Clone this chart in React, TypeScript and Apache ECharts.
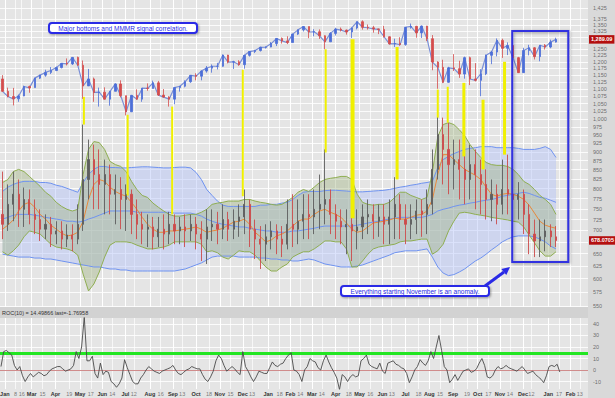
import React, { useEffect, useRef } from "react";
import * as echarts from "echarts";

const DAY_MS = 86400000;
const toTs = (s: string) => {
  const [y, m, d] = s.split("-").map(Number);
  return new Date(y, m - 1, d).getTime();
};

// ---------- time frame ----------
const FIRST_WEEK = "2010-01-22"; // weekly bars, one per Friday
const ROC_START = "2010-01-20"; // ROC samples, every 3.5 days
const X_MIN = toTs("2010-01-18") + 17 * 3600000;
const X_MAX = toTs("2012-02-23") + 17 * 3600000;

// ---------- S&P 500 weekly bars ----------
const SPX_OPEN = [1136,1092,1074,1066,1076,1109,1105,1139,1150,1160,1167,1178,1194,1192,1217,1187,1111,1136,1088,1089,1065,1092,1118,1077,1023,1078,1065,1103,1102,1122,1079,1072,1065,1105,1110,1126,1149,1146,1165,1176,1183,1183,1226,1199,1200,1189,1225,1240,1244,1257,1258,1272,1293,1283,1276,1311,1329,1343,1320,1321,1304,1279,1314,1332,1328,1320,1337,1364,1340,1338,1333,1331,1300,1271,1272,1268,1340,1344,1316,1345,1292,1199,1179,1124,1177,1174,1154,1216,1136,1131,1155,1225,1238,1285,1253,1264,1216,1159,1244,1255,1220,1265,1258,1278];
const SPX_CLOSE = [1092,1074,1066,1076,1109,1104,1139,1150,1160,1167,1178,1194,1192,1217,1187,1111,1136,1088,1089,1065,1092,1118,1077,1023,1078,1065,1103,1102,1122,1079,1072,1065,1105,1110,1126,1149,1146,1165,1176,1183,1183,1226,1199,1200,1189,1225,1240,1244,1257,1258,1272,1293,1283,1276,1311,1329,1343,1320,1321,1304,1279,1314,1332,1328,1320,1337,1364,1340,1338,1333,1331,1300,1271,1272,1268,1340,1344,1316,1345,1292,1199,1179,1124,1177,1174,1154,1216,1136,1131,1155,1225,1238,1285,1253,1264,1216,1159,1244,1255,1220,1265,1258,1278,1289.09];
const SPX_LOW = [1090,1071,1044,1056,1075,1087,1105,1136,1144,1154,1165,1175,1186,1188,1185,1066,1111,1056,1040,1064,1043,1092,1071,1011,1022,1063,1056,1094,1102,1076,1070,1040,1048,1091,1106,1122,1131,1131,1159,1159,1171,1181,1194,1173,1185,1174,1220,1234,1240,1252,1257,1262,1272,1270,1276,1307,1322,1294,1302,1291,1249,1279,1305,1322,1309,1295,1331,1330,1330,1317,1311,1297,1268,1258,1263,1263,1334,1296,1295,1282,1168,1101,1121,1122,1165,1140,1137,1114,1127,1075,1150,1191,1221,1215,1226,1209,1158,1158,1225,1209,1202,1248,1253,1276];
const SPX_HIGH = [1150,1105,1104,1081,1112,1112,1139,1151,1170,1180,1182,1195,1213,1217,1220,1205,1173,1141,1105,1106,1092,1120,1131,1077,1078,1099,1103,1120,1130,1129,1100,1075,1105,1110,1131,1149,1157,1167,1184,1190,1196,1228,1227,1204,1206,1225,1241,1247,1259,1260,1278,1294,1297,1302,1312,1330,1344,1343,1332,1331,1306,1319,1338,1339,1330,1339,1364,1370,1352,1346,1334,1346,1302,1292,1298,1341,1356,1346,1347,1346,1307,1202,1208,1181,1230,1204,1220,1220,1195,1172,1228,1242,1293,1292,1277,1266,1219,1255,1267,1258,1266,1270,1288,1296];

// ---------- MMMR weekly bars ----------
const MMMR_OPEN = [737,714,761,786,749,773,737,725,703,714,692,699,681,690,681,714,824,878,837,811,837,786,798,773,786,737,714,703,708,686,703,692,714,699,708,699,714,692,681,708,714,703,725,703,721,731,761,703,681,670,686,699,681,670,714,703,721,737,731,749,761,773,737,721,708,714,699,708,731,737,721,731,714,731,761,725,714,725,745,737,761,851,951,907,864,878,851,824,864,837,811,773,786,761,798,786,773,786,737,692,677,686,699,686];
const MMMR_CLOSE = [714,761,786,749,773,737,725,703,714,692,699,681,690,681,714,824,878,837,811,837,786,798,773,786,737,714,703,708,686,703,692,714,699,708,699,714,692,681,708,714,703,725,703,721,731,761,703,681,670,686,699,681,670,714,703,721,737,731,749,761,773,737,721,708,714,699,708,731,737,721,731,714,731,761,725,714,725,745,737,761,851,951,907,864,878,851,824,864,837,811,773,786,761,798,786,773,786,737,692,677,686,699,686,678.07];
const MMMR_LOW = [681,699,721,708,708,714,692,677,681,664,670,659,664,655,670,699,773,749,749,737,737,714,703,699,692,681,670,664,659,664,659,670,670,670,664,677,659,635,629,677,670,681,677,681,686,692,664,639,619,635,659,649,643,659,664,670,681,681,692,703,714,692,681,670,649,635,659,681,692,681,686,670,670,681,681,670,681,692,686,692,737,824,811,786,798,773,761,773,749,737,725,721,714,737,737,721,725,692,649,643,643,655,664,664];
const MMMR_HIGH = [845,811,845,824,803,798,773,749,737,731,721,721,714,714,761,982,936,921,907,878,864,837,830,811,798,773,743,737,731,731,737,743,737,731,737,737,731,721,749,749,743,761,743,749,761,798,773,725,710,714,721,714,710,773,786,773,786,786,798,837,907,798,761,749,749,749,749,761,773,761,761,761,773,830,786,761,761,773,773,798,907,1030,1004,988,936,936,907,921,907,878,851,824,811,878,892,824,817,798,761,725,725,725,714,710];

// ---------- MMMR bands (blue = wide, green = narrow) and fast average ----------
const BLUE_UPPER = [793,804,811,816,819,819,819,816,816,814,809,806,801,796,791,816,837,851,859,859,856,856,855,855,856,857,858,858,857,856,855,855,856,857,857,855,843,824,798,783,769,759,756,756,756,756,756,756,759,759,761,761,764,766,773,783,791,793,793,793,795,796,796,795,794,793,792,792,793,794,795,796,798,801,804,806,809,811,814,816,819,856,878,887,895,901,907,910,912,915,915,915,912,912,912,912,910,907,907,907,910,915,907,884];
const BLUE_MID = [726,730,735,737,737,737,735,733,730,728,726,724,721,721,719,721,726,730,735,740,745,745,745,745,745,742,742,742,742,742,742,742,740,740,740,740,737,733,726,721,717,714,712,710,708,708,705,703,701,699,699,696,696,696,699,699,701,703,705,708,710,710,710,710,710,710,712,714,717,719,721,724,726,728,730,730,730,730,730,733,737,745,749,752,756,759,761,764,766,769,771,773,776,781,783,786,788,791,788,783,778,776,771,766];
const BLUE_LOWER = [649,647,645,643,643,643,641,641,639,639,637,635,633,631,629,627,625,623,623,621,619,619,617,617,615,615,615,615,615,615,615,615,615,617,619,623,627,631,637,643,645,645,645,645,643,643,643,643,641,641,639,639,637,637,635,635,637,639,637,633,629,627,625,623,623,623,625,627,631,635,639,643,647,652,654,656,656,656,658,660,643,623,611,606,608,613,619,627,635,641,649,658,666,675,681,686,688,688,688,686,681,675,666,660];
const GREEN_UPPER = [816,824,845,851,845,832,819,806,791,781,766,756,749,745,749,837,907,930,927,907,873,864,859,845,819,798,783,778,764,754,745,737,733,733,735,737,737,742,749,761,764,766,769,769,769,773,773,769,766,764,761,759,761,769,778,791,798,793,804,816,824,827,829,832,832,824,786,766,761,759,761,761,766,778,791,791,783,778,773,778,843,945,982,988,982,966,948,921,901,884,870,864,862,862,859,851,837,819,811,798,783,773,761,737];
const GREEN_LOWER = [654,647,656,668,686,699,696,692,681,670,664,662,660,656,647,609,577,590,613,643,668,675,675,675,673,668,664,660,660,662,664,668,675,675,675,675,675,670,654,656,652,643,639,647,656,654,654,647,635,623,615,615,623,629,643,649,654,654,660,668,677,677,675,675,660,623,623,635,649,660,664,666,668,670,675,677,677,679,681,681,649,656,670,699,721,740,742,740,737,735,733,730,728,726,724,721,719,708,690,673,656,645,645,654];
const FAST_MA = [703,712,724,745,761,766,754,737,726,712,703,694,688,690,696,721,773,811,824,819,804,793,786,781,766,749,730,714,703,696,696,699,699,701,703,705,708,703,696,699,701,705,712,719,721,726,714,696,686,675,679,688,692,699,710,721,726,726,737,745,749,742,737,730,717,703,696,699,708,717,719,721,724,728,726,726,730,735,737,745,773,837,892,892,878,864,851,843,835,824,804,786,781,786,788,786,781,773,759,740,721,712,708,705];

// ---------- ROC(10) ----------
const ROC_VALUES = [3,16,17,15,13,4,0,3,-5,-10,-6,-3,-6,-4,-2,-3,-5,-4,-1,1,2,3,3,1,-1,0,1,4,16,10,20,46,8,8,12,-3,-7,6,-4,-1,-2,-10,-12,-15,-12,-7,9,2,-4,-10,-12,-12,-7,-4,0,3,1,-1,-2,-3,-1,0,1,2,4,0,-3,-4,-2,0,1,3,2,1,1,-4,-8,-10,-6,-1,8,13,10,4,-1,1,3,1,-2,-4,16,3,-1,-6,-10,-6,-1,-2,-3,-3,2,7,4,3,5,6,10,13,15,0,-1,-4,-10,0,3,10,8,7,2,0,8,13,7,2,-2,-7,-17,-4,-6,-10,-6,-4,-6,-5,8,10,13,5,3,2,1,6,-1,-3,6,7,8,5,4,2,1,-3,-11,-6,0,3,9,6,4,8,16,10,20,30,17,3,0,-11,-8,-4,-9,-5,-1,0,1,-2,-1,1,6,10,4,-6,-7,-5,0,3,1,2,4,2,1,0,-1,1,3,0,-3,-2,-1,-4,-6,-8,-11,-5,3,4,3,5,-1.77];
const ROC_SIGNAL = 14.49866;
const ROC_LAST = -1.76958;

// ---------- yellow signal lines ----------
const SIGNAL_DATES = ["2010-05-08","2010-07-04","2010-08-31","2010-12-01","2011-03-19","2011-04-23","2011-06-20","2011-08-12","2011-08-25","2011-09-15","2011-10-10","2011-11-07"];
const SIGNAL_TOP = [1073,1013,1040,1170,1249,1290,1258,1098,1108,1122,1063,1200];
const SIGNAL_BOTTOM = [982,783,737,781,898,728,824,1004,988,887,851,892];
const SIGNAL_WIDTH = [2,2,2,2,2,4,3,2,2,3,3,3];

// ---------- anomaly box ----------
const BOX_FROM = ["2011-11-17", 1324];
const BOX_TO = ["2012-01-29", 633];

// ---------- last-value tags ----------
const SPX_LAST_TEXT = "1,289.09";
const MMMR_LAST = 678.0705;

// ---------- ticks ----------
const PRICE_GRID = [550,575,600,625,650,675,700,725,750,775,800,825,850,875,900,925,950,975,1000,1025,1050,1075,1100,1125,1150,1175,1200,1225,1250,1275,1300,1325,1350,1375,1425];
// labels hidden behind the last-value tags are left out
const PRICE_LABELS = [550,575,600,625,650,700,725,750,775,800,825,850,875,900,925,950,975,1000,1025,1050,1075,1100,1125,1150,1175,1200,1225,1250,1325,1350,1375,1425];
const ROC_TICKS = [-10,0,10,20,30,40];
const MONTH_LABELS: [string, string][] = [["2010-01-25","Jan"],["2010-03-01","Mar"],["2010-04-01","Apr"],["2010-05-03","May"],["2010-06-01","Jun"],["2010-07-01","Jul"],["2010-08-02","Aug"],["2010-09-01","Sep"],["2010-10-01","Oct"],["2010-11-01","Nov"],["2010-12-01","Dec"],["2011-01-03","Jan"],["2011-02-01","Feb"],["2011-03-01","Mar"],["2011-04-01","Apr"],["2011-05-02","May"],["2011-06-01","Jun"],["2011-07-01","Jul"],["2011-08-01","Aug"],["2011-09-01","Sep"],["2011-10-03","Oct"],["2011-11-01","Nov"],["2011-12-01","Dec"],["2012-01-03","Jan"],["2012-02-01","Feb"]];
const DAY_LABELS: [string, string][] = [["2010-02-08","8"],["2010-02-16","16"],["2010-03-15","15"],["2010-04-19","19"],["2010-05-17","17"],["2010-06-14","14"],["2010-07-12","12"],["2010-08-16","16"],["2010-09-13","13"],["2010-10-18","18"],["2010-11-15","15"],["2010-12-13","13"],["2011-01-18","18"],["2011-02-14","14"],["2011-03-14","14"],["2011-04-18","18"],["2011-05-16","16"],["2011-06-13","13"],["2011-07-18","18"],["2011-08-15","15"],["2011-09-19","19"],["2011-10-17","17"],["2011-11-14","14"],["2011-12-12","12"],["2012-01-17","17"],["2012-02-13","13"]];

const FONT = "'Liberation Sans', Arial, sans-serif";
const fmtPrice = (v: number) =>
  v >= 1000 ? `${Math.floor(v / 1000)},${String(v % 1000).padStart(3, "0")}` : String(v);

function buildOption() {
  const week0 = toTs(FIRST_WEEK);
  const weekTs = SPX_CLOSE.map((_, i) => week0 + i * 7 * DAY_MS);
  const roc0 = toTs(ROC_START);
  const rocTs = ROC_VALUES.map((_, k) => roc0 + k * 3.5 * DAY_MS);
  const pairs = (arr: number[]) => weekTs.map((t, i) => [t, arr[i]]);

  const band = (upper: number[], lower: number[], fill: string) => ({
    type: "custom",
    silent: true,
    z: 2,
    xAxisIndex: 0,
    yAxisIndex: 0,
    data: [[weekTs[0], upper[0]]],
    renderItem: (_p: any, api: any) => {
      const pts: number[][] = [];
      for (let i = 0; i < upper.length; i++) pts.push(api.coord([weekTs[i], upper[i]]));
      for (let i = lower.length - 1; i >= 0; i--) pts.push(api.coord([weekTs[i], lower[i]]));
      return { type: "polygon", shape: { points: pts }, style: { fill } };
    },
  });

  const line = (arr: number[], color: string, z = 3, extra: any = {}) => ({
    type: "line",
    silent: true,
    z,
    xAxisIndex: 0,
    yAxisIndex: 0,
    showSymbol: false,
    symbol: "none",
    data: pairs(arr),
    lineStyle: { color, width: 1 },
    ...extra,
  });

  const tagLabel = {
    show: true, position: "end", distance: 1, color: "#ffffff", backgroundColor: "#b40f0f",
    fontWeight: "bold", fontSize: 5.5, fontFamily: FONT, padding: [1.5, 2, 1, 2],
  };

  return {
    animation: false,
    backgroundColor: "#e5e5e5",
    grid: [
      { left: 0, right: 27, top: 0, height: 307, show: false },
      { left: 0, right: 27, top: 318, height: 71, show: false },
    ],
    xAxis: [
      { type: "time", gridIndex: 0, min: X_MIN, max: X_MAX, show: false },
      { type: "time", gridIndex: 1, min: X_MIN, max: X_MAX, show: false },
    ],
    yAxis: [
      { type: "log", gridIndex: 0, min: 548.2, max: 1462, show: false },
      { type: "value", gridIndex: 1, min: -16.5, max: 45.2, show: false },
    ],
    graphic: [
      { type: "rect", z: 0, silent: true, shape: { x: 588, y: 0, width: 27, height: 398 }, style: { fill: "#d9d9d9" } },
      { type: "rect", z: 0, silent: true, shape: { x: 0, y: 307, width: 588, height: 11 }, style: { fill: "#d2d2d2" } },
      {
        type: "text", z: 50, silent: true, x: 2, y: 312.5,
        style: { text: `ROC(10) = ${ROC_SIGNAL} last=${ROC_LAST}`, fontSize: 5.5, fontFamily: FONT, fill: "#333", verticalAlign: "middle", textVerticalAlign: "middle" },
      },
      {
        type: "rect", z: 100, silent: true, shape: { x: 49, y: 23, width: 148, height: 10, r: 3 },
        style: { fill: "#ffffff", stroke: "#2a2ae6", lineWidth: 2, shadowBlur: 2, shadowColor: "rgba(0,0,0,0.35)", shadowOffsetX: 1, shadowOffsetY: 1 },
      },
      {
        type: "text", z: 101, silent: true, x: 123, y: 28.3,
        style: { text: "Major bottoms and MMMR signal correlation.", fontSize: 6.5, fontFamily: FONT, fill: "#2a2ae6", align: "center", textAlign: "center", verticalAlign: "middle", textVerticalAlign: "middle" },
      },
      {
        type: "rect", z: 100, silent: true, shape: { x: 341, y: 286, width: 148, height: 10, r: 3 },
        style: { fill: "#ffffff", stroke: "#2a2ae6", lineWidth: 2, shadowBlur: 2, shadowColor: "rgba(0,0,0,0.35)", shadowOffsetX: 1, shadowOffsetY: 1 },
      },
      {
        type: "text", z: 101, silent: true, x: 415, y: 291.3,
        style: { text: "Everything starting November is an anomaly.", fontSize: 6.5, fontFamily: FONT, fill: "#2a2ae6", align: "center", textAlign: "center", verticalAlign: "middle", textVerticalAlign: "middle" },
      },
      { type: "line", z: 99, silent: true, shape: { x1: 485, y1: 286, x2: 504, y2: 272 }, style: { stroke: "#2a2ae6", lineWidth: 3 } },
      { type: "polygon", z: 99, silent: true, shape: { points: [[510, 267], [506.3, 275.1], [501.3, 268.9]] }, style: { fill: "#2a2ae6" } },
    ],
    series: [
      // main grid lines + right-hand price labels
      {
        type: "line", xAxisIndex: 0, yAxisIndex: 0, data: [], silent: true, z: 1,
        markLine: {
          silent: true, z: 1, symbol: ["none", "none"], animation: false,
          lineStyle: { color: "#ffffff", width: 1, type: "solid", opacity: 0.85 },
          label: { show: true, position: "end", distance: 5, color: "#555", fontSize: 5.5, fontFamily: FONT },
          emphasis: { disabled: true },
          data: [
            ...PRICE_GRID.map((v) => ({
              yAxis: v,
              label: PRICE_LABELS.includes(v) ? { formatter: fmtPrice(v) } : { show: false },
            })),
            ...MONTH_LABELS.map(([d]) => ({ xAxis: toTs(d), label: { show: false }, lineStyle: { opacity: 1 } })),
            ...DAY_LABELS.map(([d]) => ({ xAxis: toTs(d), label: { show: false }, lineStyle: { opacity: 0.7 } })),
          ],
        },
      },
      band(BLUE_UPPER, BLUE_LOWER, "rgba(178,192,248,0.45)"),
      band(GREEN_UPPER, GREEN_LOWER, "rgba(160,178,128,0.42)"),
      line(BLUE_UPPER, "#6f93f0"),
      line(BLUE_MID, "#6f93f0"),
      line(BLUE_LOWER, "#6f93f0"),
      line(GREEN_UPPER, "#8fae52"),
      line(GREEN_LOWER, "#8fae52"),
      {
        type: "candlestick", xAxisIndex: 0, yAxisIndex: 0, silent: true, z: 4, barWidth: 1.6,
        encode: { x: 0, y: [1, 2, 3, 4] },
        data: weekTs.map((t, i) => [t, MMMR_OPEN[i], MMMR_CLOSE[i], MMMR_LOW[i], MMMR_HIGH[i]]),
        itemStyle: { color: "#5e5e5e", color0: "#cc4b4b", borderColor: "#5e5e5e", borderColor0: "#cc4b4b", borderWidth: 0.9 },
      },
      line(FAST_MA, "#e8883a", 4, {
        markArea: {
          silent: true, z: 10,
          itemStyle: { color: "rgba(0,0,0,0)", borderColor: "#3131e0", borderWidth: 2, shadowBlur: 3, shadowColor: "rgba(0,0,0,0.35)", shadowOffsetX: 1, shadowOffsetY: 1 },
          data: [[{ xAxis: toTs(BOX_FROM[0] as string), yAxis: BOX_FROM[1] }, { xAxis: toTs(BOX_TO[0] as string), yAxis: BOX_TO[1] }]],
        },
      }),
      // S&P close path under its weekly bars
      line(SPX_CLOSE, "#7a8fd6", 4, { lineStyle: { color: "#7a8fd6", width: 1.2 } }),
      {
        type: "candlestick", xAxisIndex: 0, yAxisIndex: 0, silent: true, z: 5, barWidth: 2,
        encode: { x: 0, y: [1, 2, 3, 4] },
        data: weekTs.map((t, i) => [t, SPX_OPEN[i], SPX_CLOSE[i], SPX_LOW[i], SPX_HIGH[i]]),
        itemStyle: { color: "#4c6fd8", color0: "#d44d4d", borderColor: "#4c6fd8", borderColor0: "#d44d4d", borderWidth: 0.8 },
      },
      {
        type: "custom", xAxisIndex: 0, yAxisIndex: 0, silent: true, z: 6,
        encode: { x: 0, y: [1, 2] },
        data: SIGNAL_DATES.map((d, i) => [toTs(d), SIGNAL_TOP[i], SIGNAL_BOTTOM[i]]),
        renderItem: (p: any, api: any) => {
          const a = api.coord([api.value(0), api.value(1)]);
          const b = api.coord([api.value(0), api.value(2)]);
          const w = SIGNAL_WIDTH[p.dataIndex];
          return { type: "rect", shape: { x: a[0] - w / 2, y: a[1], width: w, height: b[1] - a[1] }, style: { fill: "#f0f000" } };
        },
      },
      // last-value tags
      {
        type: "line", xAxisIndex: 0, yAxisIndex: 0, data: [], silent: true, z: 20,
        markLine: {
          silent: true, z: 20, symbol: ["none", "none"], animation: false,
          lineStyle: { color: "rgba(0,0,0,0)", width: 0.1, type: "solid" },
          label: tagLabel,
          emphasis: { disabled: true },
          data: [
            { yAxis: SPX_CLOSE[SPX_CLOSE.length - 1], label: { ...tagLabel, formatter: SPX_LAST_TEXT } },
            { yAxis: MMMR_LAST, label: { ...tagLabel, formatter: String(MMMR_LAST) } },
          ],
        },
      },
      // ROC grid lines, ROC labels and date labels
      {
        type: "line", xAxisIndex: 1, yAxisIndex: 1, data: [], silent: true, z: 1,
        markLine: {
          silent: true, z: 1, symbol: ["none", "none"], animation: false,
          lineStyle: { color: "#ffffff", width: 1, type: "solid", opacity: 0.85 },
          label: { show: true, position: "end", distance: 5, color: "#555", fontSize: 5.5, fontFamily: FONT },
          emphasis: { disabled: true },
          data: [
            ...ROC_TICKS.map((v) => ({ yAxis: v, label: { formatter: String(v) } })),
            ...MONTH_LABELS.map(([d, t]) => ({ xAxis: toTs(d), lineStyle: { opacity: 1 }, label: { formatter: t, position: "start", distance: 2, fontWeight: "bold", color: "#333" } })),
            ...DAY_LABELS.map(([d, t]) => ({ xAxis: toTs(d), lineStyle: { opacity: 0.7 }, label: { formatter: t, position: "start", distance: 2, color: "#444" } })),
          ],
        },
      },
      {
        type: "line", xAxisIndex: 1, yAxisIndex: 1, silent: true, z: 3, showSymbol: false, symbol: "none",
        data: rocTs.map((t, k) => [t, ROC_VALUES[k]]),
        lineStyle: { color: "#4a4a4a", width: 0.9 },
        markLine: {
          silent: true, z: 2, symbol: ["none", "none"], animation: false,
          label: { show: false },
          emphasis: { disabled: true },
          data: [
            { yAxis: 0, lineStyle: { color: "#d08c8c", width: 1, type: "solid" } },
            { yAxis: ROC_SIGNAL, lineStyle: { color: "#22e622", width: 3, type: "solid" } },
          ],
        },
      },
    ],
  };
}

export default function App() {
  const ref = useRef<HTMLDivElement>(null);
  useEffect(() => {
    const chart = echarts.init(ref.current as HTMLDivElement, undefined, { renderer: "svg" });
    chart.setOption(buildOption() as any);
    return () => chart.dispose();
  }, []);
  return <div ref={ref} style={{ position: "absolute", left: 0, top: 0, width: 615, height: 398 }} />;
}
